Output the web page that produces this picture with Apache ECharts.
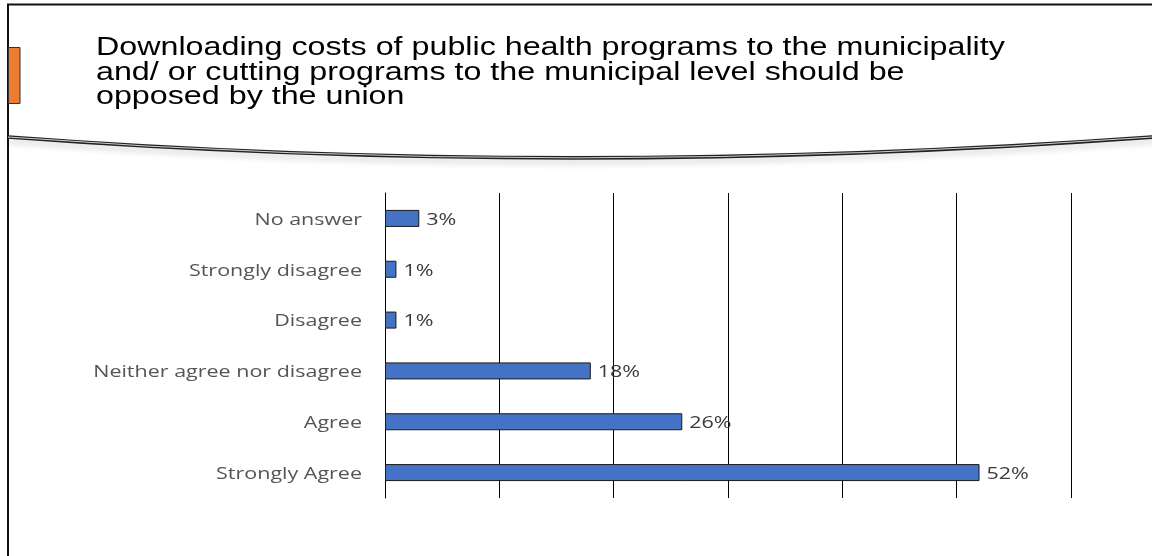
<!DOCTYPE html>
<html>
<head>
<meta charset="utf-8">
<style>
  html, body { margin: 0; padding: 0; background: #fff; }
  #chart { width: 1152px; height: 556px; }
</style>
<script src="https://cdn.jsdelivr.net/npm/echarts@6/dist/echarts.min.js"></script>
</head>
<body>
<div id="chart"></div>
<script>
// Survey responses, listed bottom-to-top as the category axis draws them
const categories = [
  'Strongly Agree',
  'Agree',
  'Neither agree nor disagree',
  'Disagree',
  'Strongly disagree',
  'No answer'
];
const shares = [52, 26, 18, 1, 1, 3];
const titleLines = [
  'Downloading costs of public health programs to the municipality',
  'and/ or cutting programs to the municipal level should be',
  'opposed by the union'
];

// The slide's text is set wide; this horizontal stretch reproduces it
const WIDE = 1.25;
const labelFont = '17.2px "Open Sans", sans-serif';

const chart = echarts.init(document.getElementById('chart'));

const titleFont = '25px "Liberation Sans", Arial, sans-serif';
const titleText = titleLines.map((line, i) => ({
  type: 'text',
  x: 96,
  y: 36 + i * 24.5,
  scaleX: 1.29,
  style: { text: line, font: titleFont, fill: '#000' },
  z: 10
}));

const rows = shares.map((v, i) => [v, i]);

chart.setOption({
  animation: false,
  backgroundColor: '#fff',
  grid: { left: 385, top: 193, width: 686, height: 305, containLabel: false },
  xAxis: {
    type: 'value',
    min: 0,
    max: 60,
    interval: 10,
    axisLine: { show: false },
    axisTick: { show: false },
    axisLabel: { show: false },
    splitLine: { show: true, lineStyle: { color: '#000', width: 1 } }
  },
  yAxis: {
    type: 'category',
    data: categories,
    axisLine: { show: true, lineStyle: { color: '#000', width: 1 } },
    axisTick: { show: false },
    axisLabel: { show: false }
  },
  series: [
    {
      type: 'bar',
      data: shares,
      barWidth: 17,
      itemStyle: { color: '#4472C4', borderColor: '#1a1a1a', borderWidth: 1 },
      z: 3
    },
    {
      // category names and value labels, set in the wide slide lettering
      type: 'custom',
      data: rows,
      encode: { x: 0, y: 1 },
      z: 5,
      silent: true,
      renderItem: function (params, api) {
        const v = api.value(0);
        const idx = api.value(1);
        const base = api.coord([0, idx]);
        const end = api.coord([v, idx]);
        return {
          type: 'group',
          children: [
            {
              type: 'text',
              x: base[0] - 23,
              y: base[1] + 1.5,
              scaleX: WIDE,
              style: {
                text: categories[idx],
                font: labelFont,
                fill: '#555',
                align: 'right',
                verticalAlign: 'middle'
              }
            },
            {
              type: 'text',
              x: end[0] + 7,
              y: end[1] + 1.5,
              scaleX: WIDE,
              style: {
                text: v + '%',
                font: labelFont,
                fill: '#3a3a3a',
                align: 'left',
                verticalAlign: 'middle'
              }
            }
          ]
        };
      }
    }
  ],
  graphic: [
    // slide frame
    {
      type: 'rect',
      shape: { x: 8, y: 4.5, width: 1300, height: 700 },
      style: { fill: 'none', stroke: '#111', lineWidth: 2 },
      z: 1, silent: true
    },
    // orange accent tab
    {
      type: 'rect',
      shape: { x: 8.5, y: 47.5, width: 11.5, height: 56 },
      style: { fill: '#ED7D31', stroke: '#333', lineWidth: 1 },
      z: 2, silent: true
    },
    // curved double rule under the title
    {
      type: 'bezierCurve',
      shape: { x1: 8, y1: 137, cpx1: 570, cpy1: 179, x2: 1160, y2: 136.5 },
      style: {
        fill: 'none', stroke: '#222', lineWidth: 3.6,
        shadowColor: 'rgba(0,0,0,0.18)', shadowBlur: 6, shadowOffsetY: 4
      },
      z: 2, silent: true
    },
    {
      type: 'bezierCurve',
      shape: { x1: 8, y1: 137, cpx1: 570, cpy1: 179, x2: 1160, y2: 136.5 },
      style: { fill: 'none', stroke: '#d0d0d0', lineWidth: 1 },
      z: 3, silent: true
    }
  ].concat(titleText)
});
</script>
</body>
</html>
